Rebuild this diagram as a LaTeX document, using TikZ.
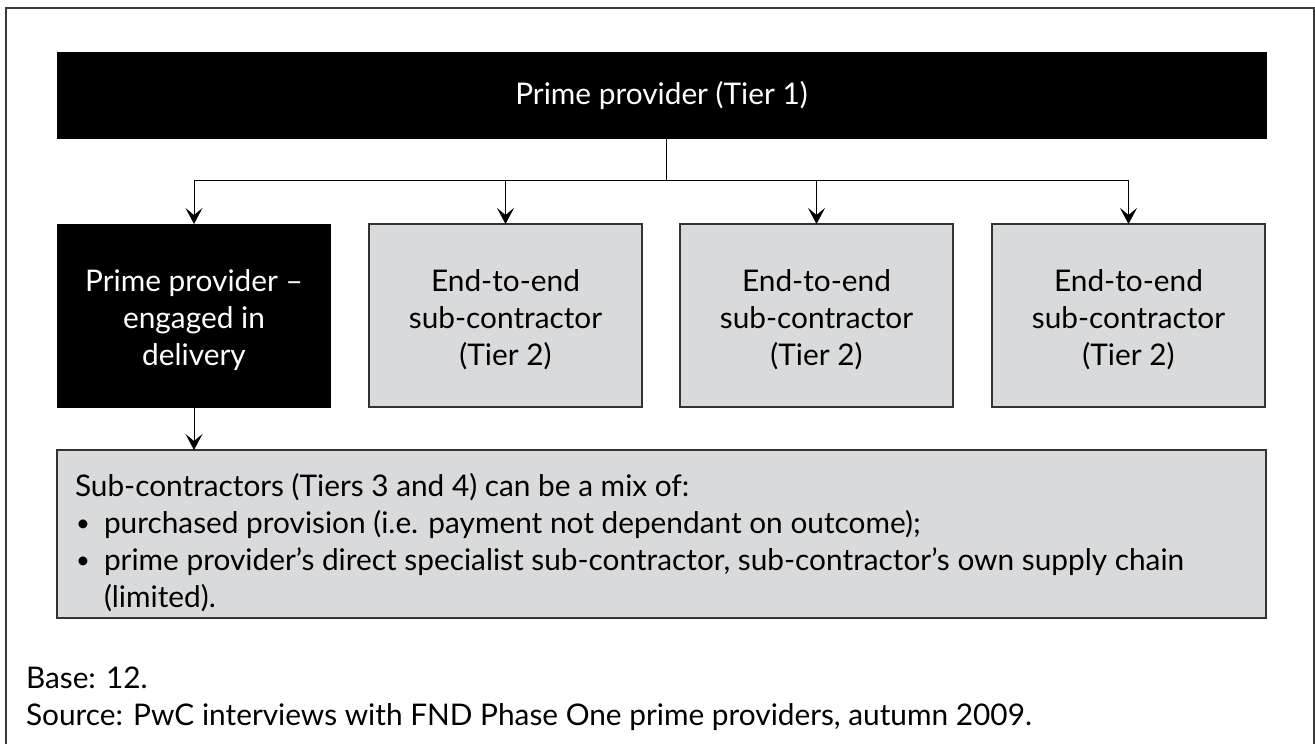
\documentclass[tikz,border=0pt]{standalone}
\usepackage{fontspec}
\setmainfont{Lato}
\usetikzlibrary{arrows.meta}
\definecolor{boxgray}{HTML}{D9DADC}
\definecolor{edge}{HTML}{333333}
\definecolor{frame}{HTML}{3A3A3A}
\tikzset{
  txt/.style={font=\fontsize{29.8}{37}\selectfont},
  blackbox/.style={txt, draw=black, fill=black, text=white, line width=1pt, inner sep=0pt, outer sep=0pt, minimum width=273pt, minimum height=183pt, align=center},
  graybox/.style={txt, draw=edge, fill=boxgray, text=black, line width=1.3pt, inner sep=0pt, outer sep=0pt, minimum width=273pt, minimum height=183pt, align=center},
  link/.style={draw=black, line width=1pt},
  arr/.style={link, -{Stealth[length=16pt,width=17pt,inset=7pt]}},
  plain/.style={txt, inner sep=0pt, outer sep=0pt, anchor=base west}
}
\newcommand{\tl}{\rule{0pt}{30.5pt}}
\newcommand{\bul}{\makebox[29pt][l]{\hspace{1pt}\raisebox{2pt}{\scalebox{0.8}{•}}}}
\newcommand{\tline}[1]{\hbox{#1}}
\begin{document}
\begin{tikzpicture}[x=1pt,y=-1pt]
\useasboundingbox (0,0) rectangle (1315,744);
\draw[frame, line width=2.5pt] (6,770) -- (6,8) -- (1314,8) -- (1314,770);

\node[blackbox, minimum width=1209pt, minimum height=86pt] (top) at (661.5,95) {Prime provider (Tier 1)};
\node[blackbox] (d) at (194,315.5) {\tl Prime provider –\\engaged in\\delivery};
\node[graybox] (e1) at (505.5,315.5) {\tl End-to-end\\sub-contractor\\(Tier 2)};
\node[graybox] (e2) at (816.5,315.5) {\tl End-to-end\\sub-contractor\\(Tier 2)};
\node[graybox] (e3) at (1128.5,315.5) {\tl End-to-end\\sub-contractor\\(Tier 2)};
\node[graybox, minimum width=1209pt, minimum height=168pt] (sub) at (661.5,534) {};
\node[plain] (subtext) at (75,496) {\vtop{\baselineskip=37pt
\tline{Sub-contractors (Tiers 3 and 4) can be a mix of:}
\tline{\bul purchased provision (i.e. payment not dependant on outcome);}
\tline{\bul prime provider’s direct specialist sub-contractor, sub-contractor’s own supply chain}
\tline{\kern29pt(limited).}}};

\node[plain] (source) at (26,688) {\vtop{\baselineskip=37pt
\tline{Base: 12.}
\tline{Source: PwC interviews with FND Phase One prime providers, autumn 2009.}}};

\coordinate (jy) at (0,180);
\coordinate (j) at ([xshift=4.5pt]top.south |- jy);
\draw[link] ([xshift=4.5pt]top.south) -- (j);
\draw[link] (d.north |- jy) -- (e3.north |- jy);
\draw[arr] (d.north |- jy) -- (d.north);
\draw[arr] (e1.north |- jy) -- (e1.north);
\draw[arr] (e2.north |- jy) -- (e2.north);
\draw[arr] (e3.north |- jy) -- (e3.north);
\draw[arr] (d.south) -- (d.south |- sub.north);
\end{tikzpicture}
\end{document}
